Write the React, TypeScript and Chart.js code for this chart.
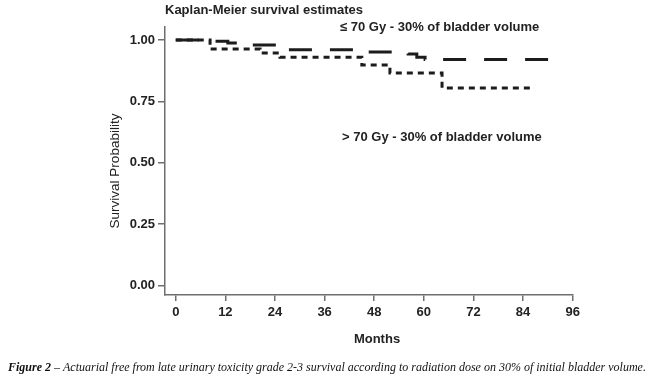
import React, { useEffect, useRef } from 'react';
import { Chart, registerables } from 'chart.js';

Chart.register(...registerables);

// ≤ 70 Gy group (long dashes)
const lowDoseMonths = [0, 8.3, 12.6, 16.8, 25.2, 45, 56.2, 58.3, 60.3, 91];
const lowDoseSurvival = [1.0, 0.995, 0.988, 0.98, 0.96, 0.951, 0.943, 0.93, 0.92, 0.92];
// > 70 Gy group (short dashes)
const highDoseMonths = [0, 8.3, 20.4, 25.2, 45, 51.8, 64.4, 85.7];
const highDoseSurvival = [1.0, 0.963, 0.947, 0.93, 0.898, 0.866, 0.805, 0.805];

const xTickValues = [0, 12, 24, 36, 48, 60, 72, 84, 96];
const yTickValues = [0, 0.25, 0.5, 0.75, 1];

const titleText = 'Kaplan-Meier survival estimates';
const lowLabel = '≤ 70 Gy - 30% of bladder volume';
const highLabel = '> 70 Gy - 30% of bladder volume';
const xTitle = 'Months';
const yTitle = 'Survival Probability';
const captionBold = 'Figure 2';
const captionRest = ' – Actuarial free from late urinary toxicity grade 2-3 survival according to radiation dose on 30% of initial bladder volume.';

const SANS = '"Liberation Sans", Arial, sans-serif';
const SERIF = '"Liberation Serif", "Times New Roman", serif';

const textPlugin = {
  id: 'texts',
  afterDraw(chart: any) {
    const ctx = chart.ctx as CanvasRenderingContext2D;
    ctx.save();
    ctx.fillStyle = '#222';
    ctx.textBaseline = 'middle';
    ctx.textAlign = 'left';
    ctx.font = `bold 13px ${SANS}`;
    ctx.fillText(titleText, 165, 10);
    ctx.fillText(lowLabel, 340, 27);
    ctx.fillText(highLabel, 342, 137);
    ctx.textAlign = 'center';
    ctx.fillText(xTitle, 377, 339);
    ctx.save();
    ctx.translate(115, 171);
    ctx.rotate(-Math.PI / 2);
    ctx.font = `13.5px ${SANS}`;
    ctx.fillText(yTitle, 0, 0);
    ctx.restore();
    // caption
    ctx.textAlign = 'left';
    ctx.fillStyle = '#111';
    ctx.font = `bold italic 12px ${SERIF}`;
    const wb = ctx.measureText(captionBold).width;
    ctx.fillText(captionBold, 8, 368);
    ctx.font = `italic 12px ${SERIF}`;
    ctx.fillText(captionRest, 8 + wb, 368);
    ctx.restore();
  },
};

export default function App() {
  const ref = useRef<HTMLCanvasElement | null>(null);
  useEffect(() => {
    if (!ref.current) return;
    const axisColor = '#6e6e6e';
    const chart = new Chart(ref.current, {
      type: 'line',
      data: {
        datasets: [
          {
            data: lowDoseMonths.map((m, i) => ({ x: m, y: lowDoseSurvival[i] })),
            stepped: true,
            borderColor: '#1c1c1c',
            borderWidth: 3,
            borderDash: [23, 18],
            borderCapStyle: 'butt',
            pointRadius: 0,
            fill: false,
          },
          {
            data: highDoseMonths.map((m, i) => ({ x: m, y: highDoseSurvival[i] })),
            stepped: true,
            borderColor: '#1c1c1c',
            borderWidth: 3,
            borderDash: [6, 5],
            borderCapStyle: 'butt',
            pointRadius: 0,
            fill: false,
          },
        ],
      },
      options: {
        responsive: false,
        animation: false,
        layout: { padding: { top: 26.7, right: 77.3, left: 0, bottom: 0 } },
        plugins: { legend: { display: false }, tooltip: { enabled: false }, title: { display: false } },
        scales: {
          x: {
            type: 'linear',
            min: -2.6,
            max: 96,
            afterBuildTicks: (s: any) => {
              s.ticks = xTickValues.map((v) => ({ value: v }));
            },
            afterFit: (s: any) => {
              s.height = 91;
            },
            grid: { display: true, drawOnChartArea: false, drawTicks: true, tickLength: 6, color: axisColor, lineWidth: 1.5 },
            border: { display: true, color: axisColor, width: 1.5 },
            ticks: {
              padding: 4,
              color: '#222',
              font: { family: SANS, size: 13, weight: 'bold' },
              maxRotation: 0,
              autoSkip: false,
              callback: (v: any) => String(v),
            },
          },
          y: {
            type: 'linear',
            min: -0.038,
            max: 1.054,
            afterBuildTicks: (s: any) => {
              s.ticks = yTickValues.map((v) => ({ value: v }));
            },
            afterFit: (s: any) => {
              s.width = 165;
            },
            grid: { display: true, drawOnChartArea: false, drawTicks: true, tickLength: 7, color: axisColor, lineWidth: 1.5 },
            border: { display: true, color: axisColor, width: 1.5 },
            ticks: {
              padding: 3,
              color: '#222',
              font: { family: SANS, size: 13, weight: 'bold' },
              autoSkip: false,
              callback: (v: any) => Number(v).toFixed(2),
            },
          },
        },
      },
      plugins: [textPlugin],
    } as any);
    return () => chart.destroy();
  }, []);
  return (
    <div style={{ position: 'absolute', left: 0, top: 0, width: 650, height: 386, background: '#fff' }}>
      <canvas ref={ref} width={650} height={386} />
    </div>
  );
}
